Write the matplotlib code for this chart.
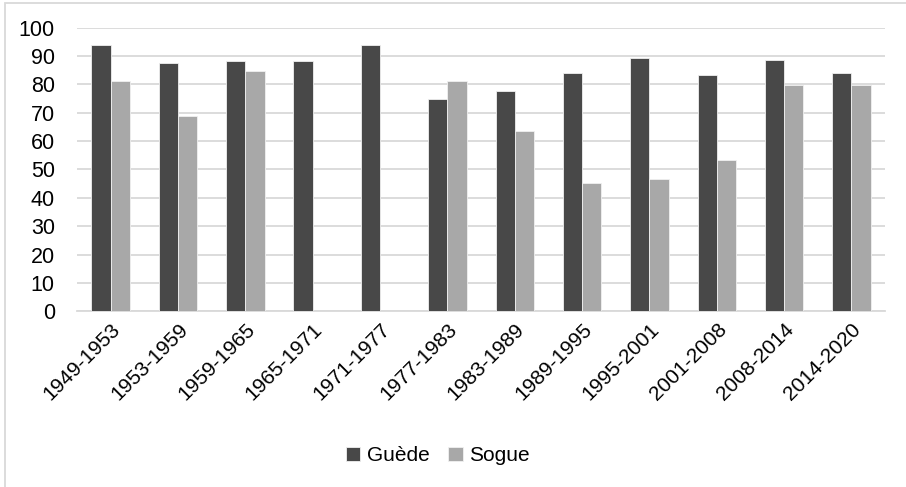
import numpy as np
import matplotlib
matplotlib.use('Agg')
import matplotlib.pyplot as plt
from matplotlib.patches import Rectangle

plt.rcParams['font.family'] = ['Liberation Sans', 'DejaVu Sans']

# ====================== data ======================
periodes = ['1949-1953', '1953-1959', '1959-1965', '1965-1971', '1971-1977',
            '1977-1983', '1983-1989', '1989-1995', '1995-2001', '2001-2008',
            '2008-2014', '2014-2020']
guede = [94.0, 87.4, 88.1, 88.1, 94.0, 74.8, 77.7, 84.1, 89.3, 83.2, 88.8, 83.9]
sogue = [81.1, 68.9, 84.6, 0, 0, 81.1, 63.4, 45.3, 46.5, 53.2, 79.9, 79.9]
yticks = list(range(0, 101, 10))

# ====================== figure ======================
fig = plt.figure(figsize=(9.06, 4.87), dpi=100)
ax = fig.add_axes([0.085, 0.361, 0.892, 0.582])

x = np.arange(len(periodes))
w = 1 / 3.5  # gap width 150%
ax.bar(x - w / 2, guede, w, color='#484848', edgecolor='#f0f0f0', linewidth=0.6,
       label='Guède', zorder=3)
ax.bar(x + w / 2, sogue, w, color='#a8a8a8', edgecolor='#f0f0f0', linewidth=0.6,
       label='Sogue', zorder=3)

ax.set_xlim(-0.5, len(periodes) - 0.5)
ax.set_ylim(0, 100)
ax.set_yticks(yticks)
ax.grid(axis='y', color='#d9d9d9', linewidth=1.3, zorder=0)
for s in ['top', 'right', 'left']:
    ax.spines[s].set_visible(False)
ax.spines['bottom'].set_color('#d9d9d9')
ax.spines['bottom'].set_linewidth(1.3)
ax.tick_params(axis='both', length=0, colors='#000000')
ax.tick_params(axis='y', pad=16, labelsize=15.5)
ax.set_xticks(x)
ax.set_xticklabels(periodes, rotation=45, ha='right', va='top',
                   rotation_mode='anchor', fontsize=15)
ax.tick_params(axis='x', pad=6)

fig.legend(loc='center', bbox_to_anchor=(0.483, 0.064), ncol=2, frameon=False,
           fontsize=15, handlelength=0.7, handleheight=0.7, handletextpad=0.3,
           columnspacing=0.9)

# chart area border
fig.patches.append(Rectangle((5 / 906, -0.1), 1.2, 1 - 3 / 487 + 0.1,
                             transform=fig.transFigure, fill=False,
                             edgecolor='#d9d9d9', linewidth=1.3))

fig.savefig('out.png', dpi=100)
